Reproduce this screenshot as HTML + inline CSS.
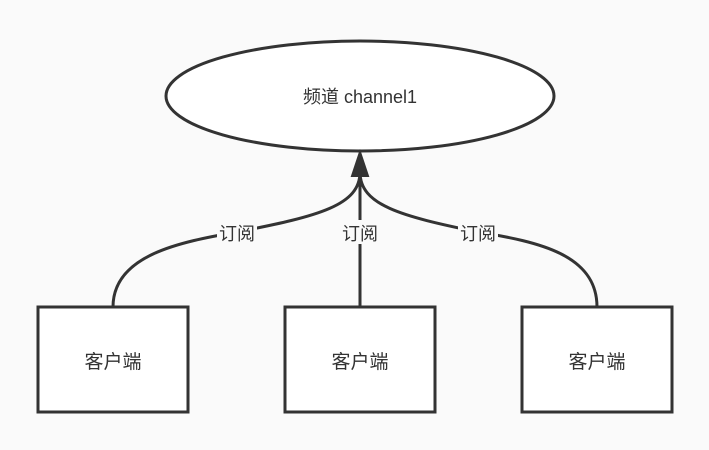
<!DOCTYPE html>
<html><head><meta charset="utf-8"><style>
body{margin:0;background:#fafafa;}
svg{display:block;}
text{font-family:"Liberation Sans","Noto Sans CJK SC",sans-serif;fill:#333;}
</style></head><body>
<svg width="709" height="450" viewBox="0 0 709 450">
<rect width="709" height="450" fill="#fafafa"/>
<ellipse cx="360" cy="96" rx="194" ry="55" fill="#fff" stroke="#333" stroke-width="3"/>
<text x="360" y="103" font-size="18" text-anchor="middle">频道 channel1</text>
<g fill="none" stroke="#333" stroke-width="3">
<path d="M113,307 C113,255 180,242 237,232 C320,216 360,205 360,172"/>
<path d="M597,307 C597,255 540,242 478,232 C400,216 360,205 360,172"/>
<path d="M360,307 L360,172"/>
</g>
<path d="M360,152 L352,176 L368,176 Z" fill="#333" stroke="#333" stroke-width="2"/>
<g font-size="18" text-anchor="middle">
<rect x="217" y="220" width="40" height="24" fill="#fafafa"/>
<text x="237" y="240">订阅</text>
<rect x="340" y="220" width="40" height="24" fill="#fafafa"/>
<text x="360" y="240">订阅</text>
<rect x="458" y="220" width="40" height="24" fill="#fafafa"/>
<text x="478" y="240">订阅</text>
</g>
<g fill="#fff" stroke="#333" stroke-width="3">
<rect x="38" y="307" width="150" height="105"/>
<rect x="285" y="307" width="150" height="105"/>
<rect x="522" y="307" width="150" height="105"/>
</g>
<g font-size="19" text-anchor="middle">
<text x="113" y="368">客户端</text>
<text x="360" y="368">客户端</text>
<text x="597" y="368">客户端</text>
</g>
</svg>
</body></html>
